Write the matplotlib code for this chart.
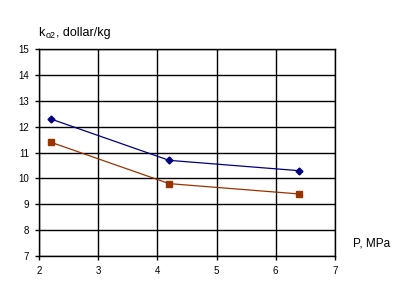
import matplotlib
matplotlib.use("Agg")
import matplotlib.pyplot as plt

# pressure, MPa
p = [2.2, 4.2, 6.4]
# cost series
cost_a = [12.3, 10.7, 10.3]
cost_b = [11.4, 9.8, 9.4]

xticks = [2, 3, 4, 5, 6, 7]
yticks = [7, 8, 9, 10, 11, 12, 13, 14, 15]

plt.rcParams['font.family'] = ['Liberation Sans', 'DejaVu Sans']

fig = plt.figure(figsize=(4.02, 2.89), dpi=100)
ax = fig.add_axes([0.097, 0.114, 0.736, 0.716])

ax.plot(p, cost_a, color='#000080', lw=0.9, marker='D', ms=3.5)
ax.plot(p, cost_b, color='#993300', lw=0.9, marker='s', ms=4.5)

ax.set_xlim(2, 7)
ax.set_ylim(7, 15)
ax.set_xticks(xticks)
ax.set_yticks(yticks)
ax.grid(True, color='black', lw=1)
ax.set_axisbelow(True)
for s in ax.spines.values():
    s.set_linewidth(1)
ax.tick_params(labelsize=7, length=3, width=1, pad=4)

# y label: k + small "o2" subscript
fig.text(0.094, 0.885, 'k', fontsize=9, ha='left', va='center')
fig.text(0.113, 0.878, 'o2', fontsize=6.5, ha='left', va='center')
fig.text(0.139, 0.885, ', dollar/kg', fontsize=9, ha='left', va='center')
fig.text(0.878, 0.158, 'P, MPa', fontsize=8.5, ha='left', va='center')

fig.savefig('out.png', dpi=100)
